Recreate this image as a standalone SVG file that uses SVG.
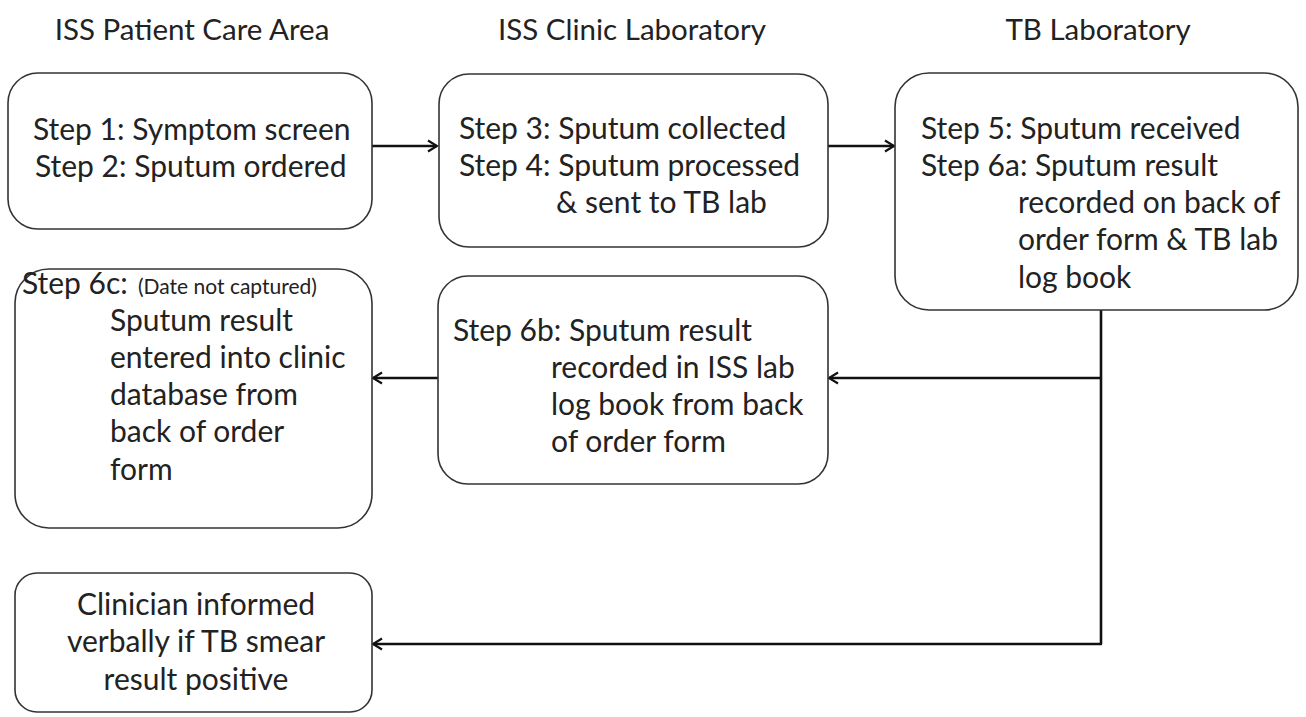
<svg xmlns="http://www.w3.org/2000/svg" width="1306" height="717" viewBox="0 0 1306 717">
<style>
text{font-family:Lato,"Open Sans","Liberation Sans",sans-serif;font-size:30px;fill:#222}
.box{fill:#fff;stroke:#333;stroke-width:1.6}
.hd{text-anchor:middle;font-size:29.5px}
.mid{text-anchor:middle}
.c{fill:none;stroke:#111;stroke-width:2.6}
.sm{font-size:21px}
</style>
<defs>
<marker id="ah" viewBox="0 0 14 14" refX="12" refY="7" markerWidth="14" markerHeight="14" markerUnits="userSpaceOnUse" orient="auto">
<path d="M3,1.5 L12,7 L3,12.5" fill="none" stroke="#111" stroke-width="2.2"/>
</marker>
</defs>
<rect width="1306" height="717" fill="#fff"/>
<g id="headers">
<text class="hd" x="192" y="40">ISS Patient Care Area</text>
<text class="hd" x="632" y="40">ISS Clinic Laboratory</text>
<text class="hd" x="1098" y="40">TB Laboratory</text>
</g>
<g id="connectors">
<line class="c" x1="372" y1="146" x2="437" y2="146" marker-end="url(#ah)"/>
<line class="c" x1="828" y1="146" x2="894" y2="146" marker-end="url(#ah)"/>
<line class="c" x1="1101" y1="310" x2="1101" y2="644"/>
<line class="c" x1="1101" y1="378" x2="829" y2="378" marker-end="url(#ah)"/>
<line class="c" x1="438" y1="378" x2="373" y2="378" marker-end="url(#ah)"/>
<line class="c" x1="1102" y1="644" x2="373" y2="644" marker-end="url(#ah)"/>
</g>
<g id="step1-2">
<rect class="box" x="8" y="73" width="364" height="156" rx="30"/>
<text x="33" y="140">Step 1: Symptom screen</text>
<text x="35" y="177">Step 2: Sputum ordered</text>
</g>
<g id="step3-4">
<rect class="box" x="439" y="74" width="389" height="173" rx="30"/>
<text x="459" y="139">Step 3: Sputum collected</text>
<text x="459" y="176">Step 4: Sputum processed</text>
<text x="556" y="213">&amp; sent to TB lab</text>
</g>
<g id="step5-6a">
<rect class="box" x="895" y="73" width="403" height="237" rx="34"/>
<text x="921" y="139">Step 5: Sputum received</text>
<text x="921" y="176">Step 6a: Sputum result</text>
<text x="1018" y="213">recorded on back of</text>
<text x="1018" y="250">order form &amp; TB lab</text>
<text x="1018" y="288">log book</text>
</g>
<g id="step6b">
<rect class="box" x="438" y="276" width="390" height="208" rx="30"/>
<text x="453" y="341">Step 6b: Sputum result</text>
<text x="551" y="378">recorded in ISS lab</text>
<text x="551" y="415">log book from back</text>
<text x="551" y="452">of order form</text>
</g>
<g id="step6c">
<rect class="box" x="15" y="269" width="357" height="259" rx="34"/>
<text x="22" y="294">Step 6c: <tspan class="sm" x="138">(Date not captured)</tspan></text>
<text x="110" y="331">Sputum result</text>
<text x="110" y="368">entered into clinic</text>
<text x="110" y="405">database from</text>
<text x="110" y="442">back of order</text>
<text x="110" y="480">form</text>
</g>
<g id="clinician">
<rect class="box" x="15" y="573" width="357" height="139" rx="22"/>
<text class="mid" x="196" y="615">Clinician informed</text>
<text class="mid" x="196" y="652">verbally if TB smear</text>
<text class="mid" x="196" y="690">result positive</text>
</g>
</svg>
